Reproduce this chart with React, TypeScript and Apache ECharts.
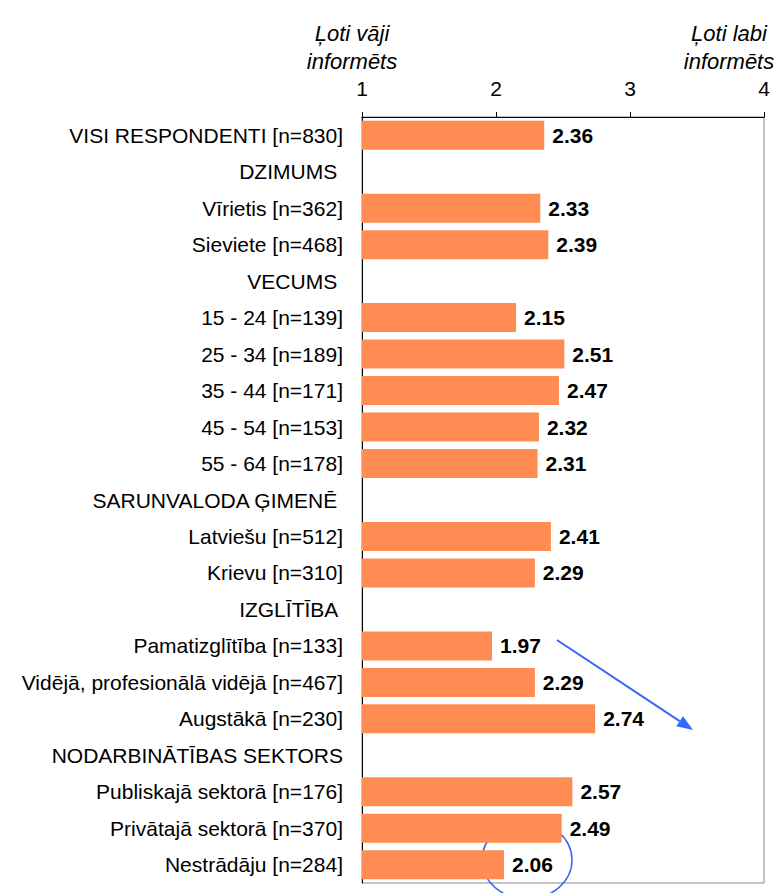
import React, { useEffect, useRef } from "react";
import * as echarts from "echarts";

const categories: string[] = [
  "VISI RESPONDENTI [n=830]",
  "DZIMUMS ",
  "Vīrietis [n=362]",
  "Sieviete [n=468]",
  "VECUMS ",
  "15 - 24 [n=139]",
  "25 - 34 [n=189]",
  "35 - 44 [n=171]",
  "45 - 54 [n=153]",
  "55 - 64 [n=178]",
  "SARUNVALODA ĢIMENĒ ",
  "Latviešu [n=512]",
  "Krievu [n=310]",
  "IZGLĪTĪBA ",
  "Pamatizglītība [n=133]",
  "Vidējā, profesionālā vidējā [n=467]",
  "Augstākā [n=230]",
  "NODARBINĀTĪBAS SEKTORS",
  "Publiskajā sektorā [n=176]",
  "Privātajā sektorā [n=370]",
  "Nestrādāju [n=284]",
];

const values: (number | string)[] = [
  2.36, "-", 2.33, 2.39, "-", 2.15, 2.51, 2.47, 2.32, 2.31, "-", 2.41, 2.29, "-", 1.97, 2.29, 2.74, "-", 2.57, 2.49, 2.06,
];

const scaleMin = 1;
const scaleMax = 4;
const scaleStep = 1;

const leftEndLabel = "Ļoti vāji\ninformēts";
const rightEndLabel = "Ļoti labi\ninformēts";

export default function App() {
  const ref = useRef<HTMLDivElement>(null);

  useEffect(() => {
    if (!ref.current) return;
    const chart = echarts.init(ref.current, undefined, { renderer: "svg" });
    const font = "'Liberation Sans', Arial, sans-serif";

    // arrow geometry (annotation)
    const ax0 = 557, ay0 = 640, tipX = 693, tipY = 730;
    const len = Math.hypot(tipX - ax0, tipY - ay0);
    const ux = (tipX - ax0) / len, uy = (tipY - ay0) / len;
    const headL = 16, headW = 6;
    const bx = tipX - ux * headL, by = tipY - uy * headL;
    const px = -uy, py = ux;

    chart.setOption({
      animation: false,
      backgroundColor: "#ffffff",
      textStyle: { fontFamily: font },
      grid: {
        left: 362,
        right: 15,
        top: 117,
        bottom: 10,
        show: true,
        borderColor: "#8a8a8a",
        borderWidth: 1,
        backgroundColor: "transparent",
      },
      xAxis: {
        type: "value",
        position: "top",
        min: scaleMin,
        max: scaleMax,
        interval: scaleStep,
        axisLine: { show: true, lineStyle: { color: "#000", width: 1 } },
        axisTick: { show: true, length: 5, lineStyle: { color: "#000" } },
        axisLabel: { color: "#000", fontSize: 21, margin: 18, fontFamily: font },
        splitLine: { show: false },
      },
      yAxis: {
        type: "category",
        inverse: true,
        data: categories,
        axisLine: { show: true, lineStyle: { color: "#000", width: 1 } },
        axisTick: { show: false },
        axisLabel: { color: "#000", fontSize: 21, margin: 19, fontFamily: font },
        splitLine: { show: false },
      },
      series: [
        {
          type: "bar",
          data: values,
          barWidth: 29,
          itemStyle: { color: "#FF8C52" },
          label: {
            show: true,
            position: "right",
            distance: 8,
            color: "#000",
            fontSize: 21,
            fontWeight: "bold",
            fontFamily: font,
            formatter: (p: any) => (typeof p.value === "number" ? p.value.toFixed(2) : ""),
          },
        },
      ],
      graphic: [
        {
          type: "text",
          x: 352,
          y: 19,
          style: {
            text: leftEndLabel,
            fill: "#000",
            font: `italic 22px ${font}`,
            lineHeight: 28,
            align: "center",
            verticalAlign: "top",
          },
        },
        {
          type: "text",
          x: 729,
          y: 19,
          style: {
            text: rightEndLabel,
            fill: "#000",
            font: `italic 22px ${font}`,
            lineHeight: 28,
            align: "center",
            verticalAlign: "top",
          },
        },
        {
          type: "line",
          shape: { x1: ax0, y1: ay0, x2: bx, y2: by },
          style: { stroke: "#3366FF", lineWidth: 2 },
        },
        {
          type: "polygon",
          shape: {
            points: [
              [tipX, tipY],
              [bx + px * headW, by + py * headW],
              [bx - px * headW, by - py * headW],
            ],
          },
          style: { fill: "#3366FF" },
        },
        {
          type: "ellipse",
          shape: { cx: 527, cy: 860, rx: 45, ry: 39 },
          style: { fill: "none", stroke: "#3F6AE8", lineWidth: 1.5 },
        },
      ],
    });
    return () => chart.dispose();
  }, []);

  return (
    <div
      ref={ref}
      style={{ position: "fixed", left: 0, top: 0, width: 779, height: 893 }}
    />
  );
}
